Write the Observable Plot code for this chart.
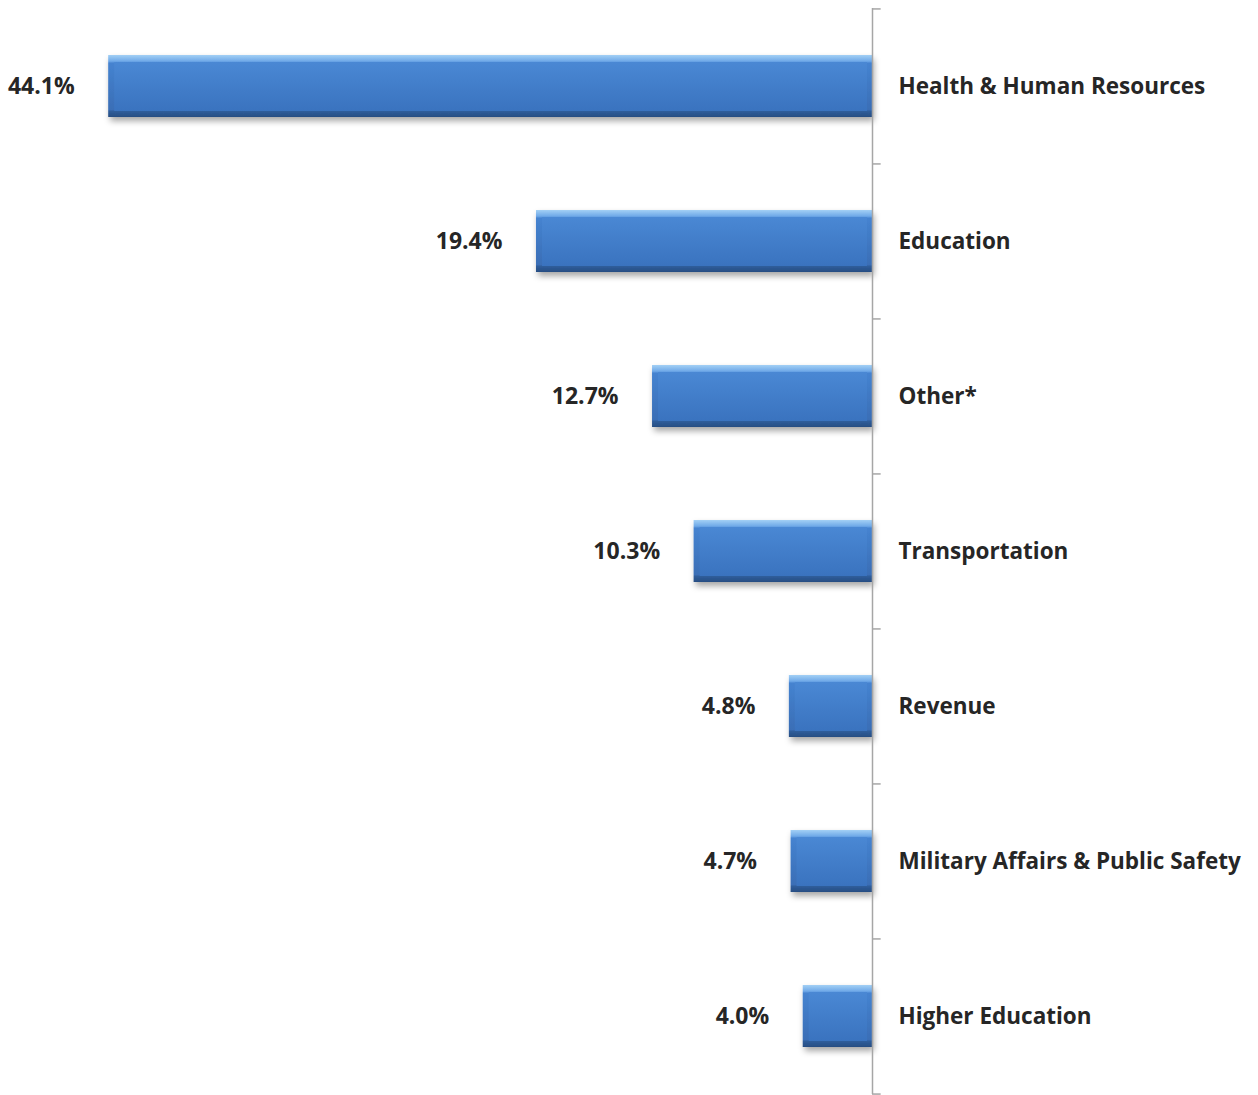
<!DOCTYPE html>
<html>
<head>
<meta charset="utf-8">
<script src="https://cdn.jsdelivr.net/npm/d3@7"></script>
<script src="https://cdn.jsdelivr.net/npm/@observablehq/plot@0.6"></script>
<style>
  html, body { margin: 0; padding: 0; background: #fff; }
  #chart svg { display: block; }
</style>
</head>
<body>
<div id="chart"></div>
<script>
const categories = ["Health & Human Resources", "Education", "Other*", "Transportation", "Revenue", "Military Affairs & Public Safety", "Higher Education"];
const shares = [44.1, 19.4, 12.7, 10.3, 4.8, 4.7, 4.0];
const valueLabels = ["44.1%", "19.4%", "12.7%", "10.3%", "4.8%", "4.7%", "4.0%"];

const data = categories.map((c, i) => ({category: c, value: shares[i], label: valueLabels[i]}));

const W = 1258, H = 1095, mTop = 8, mBottom = 1;
const step = (H - mTop - mBottom) / categories.length;
const font = "'Open Sans', Lato, sans-serif";

const chart = Plot.plot({
  width: W,
  height: H,
  marginTop: mTop,
  marginBottom: mBottom,
  marginLeft: 6,
  marginRight: 386,
  style: {fontFamily: font, background: "#fff"},
  x: {domain: [0, 50], reverse: true, axis: null},
  y: {domain: categories, paddingInner: 0.6, paddingOuter: 0.3, axis: null},
  marks: [
    Plot.barX(data, {x: "value", y: "category", fill: "url(#bevelOuter)"}),
    Plot.barX(data, {x: "value", y: "category", fill: "url(#bevelFace)", insetTop: 7, insetBottom: 6, insetLeft: 6, insetRight: 5}),
    Plot.ruleX([0], {stroke: "#a6a6a6", strokeWidth: 1.5}),
    Plot.ruleY(categories, {y: d => d, x1: 0, x2: -0.5, dy: -step / 2, stroke: "#a6a6a6", strokeWidth: 1.5}),
    Plot.ruleY(categories.slice(-1), {y: d => d, x1: 0, x2: -0.5, dy: step / 2, stroke: "#a6a6a6", strokeWidth: 1.5}),
    Plot.text(data, {x: "value", y: "category", text: "label", textAnchor: "end", dx: -34, fontSize: 23, fontWeight: 700, fill: "#262626"}),
    Plot.axisY({anchor: "right", tickSize: 0, tickPadding: 26, fontSize: 22.5, fontWeight: 700, fill: "#262626", label: null})
  ]
});

const defs = d3.create("svg:defs");
const g1 = defs.append("linearGradient").attr("id", "bevelOuter").attr("x1", 0).attr("y1", 0).attr("x2", 0).attr("y2", 1);
g1.append("stop").attr("offset", "0%").attr("stop-color", "#a3d0f5");
g1.append("stop").attr("offset", "10%").attr("stop-color", "#6fa9e8");
g1.append("stop").attr("offset", "13%").attr("stop-color", "#4583d0");
g1.append("stop").attr("offset", "88%").attr("stop-color", "#3a6eb6");
g1.append("stop").attr("offset", "91%").attr("stop-color", "#2f5d9a");
g1.append("stop").attr("offset", "100%").attr("stop-color", "#274d82");
const g2 = defs.append("linearGradient").attr("id", "bevelFace").attr("x1", 0).attr("y1", 0).attr("x2", 0).attr("y2", 1);
g2.append("stop").attr("offset", "0%").attr("stop-color", "#4a88d4");
g2.append("stop").attr("offset", "100%").attr("stop-color", "#3a73bf");
const f = defs.append("filter").attr("id", "shadow").attr("x", "-10%").attr("y", "-20%").attr("width", "130%").attr("height", "160%");
f.append("feDropShadow").attr("dx", 2).attr("dy", 4).attr("stdDeviation", 3).attr("flood-color", "#000").attr("flood-opacity", 0.35);
chart.insertBefore(defs.node(), chart.firstChild);

const barGroups = chart.querySelectorAll("g[aria-label='bar']");
if (barGroups.length) barGroups[0].setAttribute("filter", "url(#shadow)");

document.getElementById("chart").appendChild(chart);
</script>
</body>
</html>
